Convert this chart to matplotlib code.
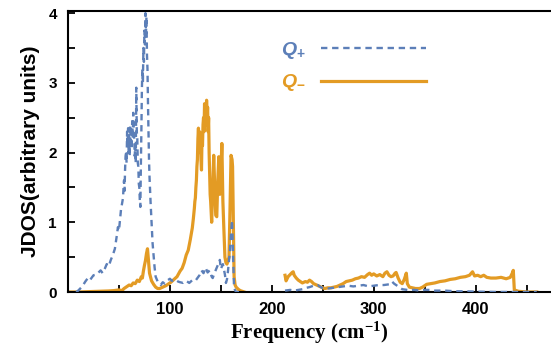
import numpy as np
import matplotlib
matplotlib.use("Agg")
import matplotlib.pyplot as plt

plt.rcParams['mathtext.fontset'] = 'custom'
plt.rcParams['mathtext.it'] = 'Liberation Sans:bold:italic'
plt.rcParams['mathtext.sf'] = 'Liberation Sans:bold'
plt.rcParams['mathtext.rm'] = 'Liberation Serif:bold'
plt.rcParams['mathtext.bf'] = 'Liberation Serif:bold'

BLUE = '#5c7fb8'
ORANGE = '#e39b24'

# Q+ , low-frequency band (cm^-1, arbitrary units)
freq_plus_low = [8, 10, 14, 17, 20, 22, 25, 28, 30, 32, 34, 36, 38, 40, 42, 44, 46, 48,
                 49, 50, 52, 54, 54.5, 55, 55.5, 56, 56.5, 57, 57.5, 58, 58.5, 59, 59.5,
                 60, 60.5, 61, 61.5, 62, 62.5, 63, 63.5, 64, 64.5, 65, 65.5, 66, 66.5, 67,
                 67.5, 68, 68.5, 69, 69.5, 70, 70.5, 71, 71.5, 72, 72.5, 73, 73.5, 74, 74.5,
                 75, 75.5, 76, 76.5, 77, 77.5, 78, 78.5, 79, 79.5, 80, 81, 82, 83, 85, 86,
                 88, 91, 93, 95, 98, 100, 102, 105, 108, 110, 113, 116, 119, 122, 125, 127,
                 129, 131, 133, 135, 137, 139, 141, 142, 144, 146, 148, 149, 150, 152,
                 154, 155, 156, 157, 158, 159, 160, 161, 162, 163, 165, 170]
q_plus_low = [0.0, 0.02, 0.08, 0.15, 0.21, 0.18, 0.24, 0.25, 0.28, 0.31, 0.27, 0.33, 0.40,
              0.37, 0.46, 0.53, 0.62, 0.82, 0.93, 0.88, 1.18, 1.35, 1.50, 1.60, 1.45, 1.75,
              1.95, 2.00, 1.85, 2.30, 2.10, 2.35, 2.00, 2.25, 1.95, 2.40, 2.15, 2.30, 2.05,
              2.45, 2.20, 2.57, 2.30, 2.20, 1.95, 2.10, 1.85, 2.93, 2.30, 2.20, 1.85, 1.80,
              1.55, 1.50, 1.30, 1.22, 1.80, 2.30, 2.90, 3.20, 3.00, 3.50, 3.30, 3.75, 3.55,
              4.00, 3.70, 3.95, 3.40, 3.20, 2.70, 2.30, 1.90, 1.65, 1.30, 1.00, 0.70, 0.35,
              0.22, 0.15, 0.10, 0.14, 0.12, 0.17, 0.19, 0.16, 0.18, 0.15, 0.14, 0.13, 0.16,
              0.13, 0.17, 0.16, 0.20, 0.24, 0.31, 0.27, 0.35, 0.28, 0.31, 0.22, 0.20, 0.28,
              0.35, 0.42, 0.46, 0.33, 0.40, 0.25, 0.13, 0.18, 0.30, 0.45, 0.60, 0.85, 1.03,
              0.50, 0.05, 0.0, 0.0]

# Q+ , high-frequency band
freq_plus_high = [213, 218, 222, 226, 230, 234, 237, 241, 245, 248, 251, 255, 260, 265, 270,
                  275, 280, 285, 290, 295, 300, 305, 310, 315, 318, 320, 324, 328, 333, 340,
                  345, 350, 355, 360, 370, 380, 390, 400, 420, 440, 460]
q_plus_high = [0.02, 0.03, 0.02, 0.03, 0.04, 0.06, 0.07, 0.09, 0.10, 0.07, 0.05, 0.05, 0.06,
               0.07, 0.08, 0.09, 0.08, 0.09, 0.10, 0.08, 0.09, 0.10, 0.10, 0.11, 0.15, 0.12,
               0.08, 0.04, 0.03, 0.03, 0.02, 0.03, 0.03, 0.02, 0.02, 0.01, 0.01, 0.005, 0.0,
               0.0, 0.0]

# Q- , low-frequency band
freq_minus_low = [0, 10, 20, 30, 40, 45, 50, 53, 55, 58, 60, 62, 64, 66, 68, 70, 72, 73, 74,
                  75, 76, 77, 78, 79, 80, 82, 84, 86, 88, 90, 93, 96, 99, 101, 104, 107, 110,
                  112, 114, 116, 118, 120, 122, 123, 124, 124.5, 125, 125.5, 126, 126.5, 127,
                  127.5, 128, 128.5, 129, 129.5, 130, 130.5, 131, 131.5, 132, 132.5, 133,
                  133.5, 134, 134.5, 135, 135.5, 136, 136.5, 137, 137.5, 138, 138.5, 139,
                  139.5, 140, 140.5, 141, 142, 143, 144, 145, 146, 147, 148, 149, 150, 151,
                  152, 153, 154, 155, 156, 157, 158, 159, 160, 161, 161.5, 162, 163, 164,
                  165, 167, 169, 171, 173]
q_minus_low = [0.0, 0.0, 0.005, 0.01, 0.015, 0.02, 0.03, 0.02, 0.05, 0.08, 0.10, 0.09, 0.13,
               0.12, 0.17, 0.15, 0.22, 0.20, 0.30, 0.38, 0.45, 0.55, 0.62, 0.45, 0.27, 0.16,
               0.11, 0.07, 0.05, 0.05, 0.07, 0.09, 0.12, 0.14, 0.18, 0.22, 0.30, 0.34, 0.42,
               0.53, 0.60, 0.75, 0.92, 1.05, 1.20, 1.30, 1.35, 1.50, 1.60, 1.80, 1.90, 2.20,
               2.35, 2.10, 2.30, 2.00, 2.28, 1.90, 1.75, 2.20, 2.10, 2.40, 2.50, 2.30, 2.70,
               2.45, 2.60, 2.40, 2.75, 2.50, 2.65, 2.30, 2.50, 2.00, 1.70, 1.40, 1.30, 1.15,
               1.00, 1.50, 1.96, 1.50, 1.10, 1.08, 1.60, 1.94, 1.40, 1.70, 2.13, 1.30, 0.89,
               0.50, 0.42, 0.40, 0.45, 0.50, 1.20, 1.96, 1.90, 1.80, 1.30, 0.22, 0.10, 0.07,
               0.04, 0.02, 0.01, 0.0]

# Q- , high-frequency band
freq_minus_high = [213, 214, 216, 218, 220, 221, 222, 224, 226, 228, 230, 233, 235, 237, 239,
                   241, 244, 247, 250, 252, 255, 258, 261, 264, 267, 270, 273, 276, 279, 282,
                   285, 288, 291, 294, 296, 298, 300, 303, 306, 309, 311, 313, 315, 317, 319,
                   321, 322, 324, 326, 328, 330, 332, 333, 335, 338, 341, 345, 348, 352, 356,
                   360, 365, 370, 375, 380, 385, 390, 394, 397, 399, 402, 405, 408, 411, 415,
                   420, 425, 430, 434, 436, 437, 438, 440, 442, 450, 460]
q_minus_high = [0.24, 0.16, 0.22, 0.25, 0.28, 0.29, 0.24, 0.20, 0.17, 0.15, 0.13, 0.15, 0.14,
                0.17, 0.15, 0.12, 0.10, 0.08, 0.06, 0.05, 0.06, 0.06, 0.07, 0.08, 0.10, 0.12,
                0.15, 0.16, 0.17, 0.19, 0.20, 0.22, 0.21, 0.25, 0.27, 0.24, 0.26, 0.23, 0.25,
                0.22, 0.27, 0.29, 0.24, 0.22, 0.23, 0.27, 0.28, 0.20, 0.14, 0.12, 0.18, 0.27,
                0.12, 0.07, 0.06, 0.05, 0.05, 0.07, 0.11, 0.12, 0.13, 0.15, 0.16, 0.18, 0.19,
                0.21, 0.22, 0.24, 0.29, 0.23, 0.24, 0.22, 0.24, 0.21, 0.20, 0.20, 0.21, 0.19,
                0.21, 0.27, 0.31, 0.03, 0.02, 0.01, 0.0, 0.0]

x_major = [100, 200, 300, 400]
x_minor = [50, 150, 250, 350, 450]
y_major = [0, 1, 2, 3, 4]
y_minor = [0.5, 1.5, 2.5, 3.5]

fig = plt.figure(figsize=(5.51, 3.5), dpi=100)
ax = fig.add_axes([68 / 551, 58 / 350, 1 - 68 / 551, 281 / 350])

dash = (0, (2.7, 2.0))
ax.plot(freq_minus_low, q_minus_low, color=ORANGE, lw=2.3, label=r'$Q_{\mathsf{-}}$', zorder=2)
ax.plot(freq_minus_high, q_minus_high, color=ORANGE, lw=2.3, zorder=2)
ax.plot(freq_plus_low, q_plus_low, color=BLUE, lw=1.7, ls=dash, label=r'$Q_{\mathsf{+}}$', zorder=3)
ax.plot(freq_plus_high, q_plus_high, color=BLUE, lw=1.7, ls=dash, zorder=3)

ax.set_xlim(0, 474)
ax.set_ylim(0, 4.03)

ax.set_xticks(x_major)
ax.set_xticks(x_minor, minor=True)
ax.set_yticks(y_major)
ax.set_yticks(y_minor, minor=True)
for lab in ax.get_xticklabels():
    lab.set_fontfamily('Liberation Sans')
    lab.set_fontweight('bold')
    lab.set_fontsize(12)
for lab in ax.get_yticklabels():
    lab.set_fontfamily('Liberation Sans')
    lab.set_fontweight('bold')
    lab.set_fontsize(11)
ax.tick_params(which='both', direction='in', length=5, width=1.3, color='black')
ax.tick_params(axis='x', pad=7)
ax.tick_params(axis='y', pad=8)

ax.spines['right'].set_visible(False)
for s in ['left', 'bottom', 'top']:
    ax.spines[s].set_linewidth(1.5)

ax.set_ylabel('JDOS(arbitrary units)', fontfamily='Liberation Sans', fontweight='bold',
              fontsize=15, labelpad=6)
ax.set_xlabel(r'Frequency (cm$^{-1}$)', fontfamily='Liberation Serif', fontweight='bold',
              fontsize=15, labelpad=2)

h, l = ax.get_legend_handles_labels()
leg = ax.legend(h[::-1], l[::-1], loc='upper left', bbox_to_anchor=(0.405, 0.96),
                frameon=False, markerfirst=False, handlelength=5.4, handletextpad=0.8,
                labelspacing=0.6, fontsize=14, labelcolor='linecolor')

fig.savefig('out.png', dpi=100)
